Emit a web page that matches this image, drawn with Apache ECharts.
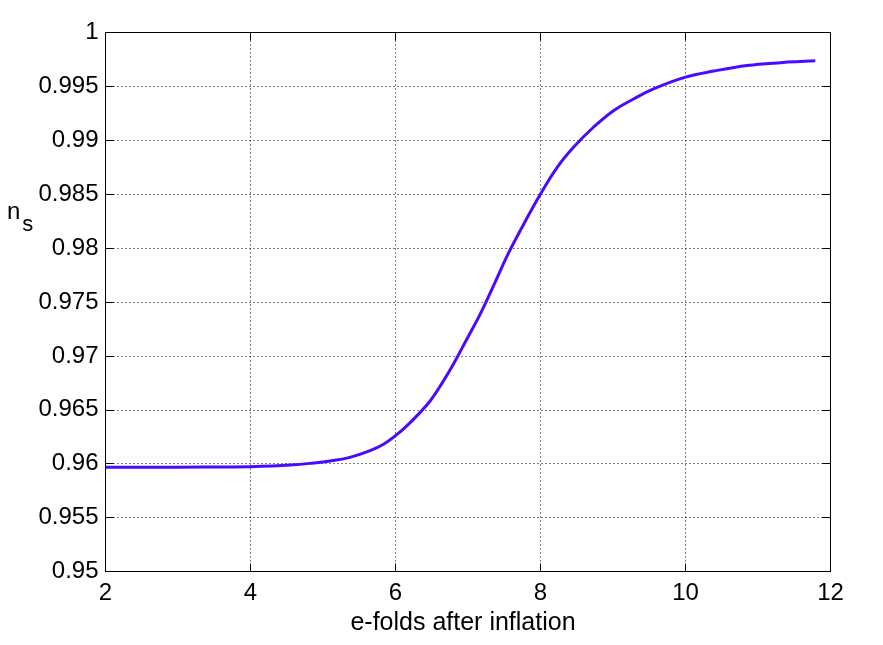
<!DOCTYPE html>
<html>
<head>
<meta charset="utf-8">
<script src="https://cdn.jsdelivr.net/npm/echarts@6/dist/echarts.min.js"></script>
<style>
html,body{margin:0;padding:0;background:#fff;}
#chart{width:883px;height:645px;}
</style>
</head>
<body>
<div id="chart"></div>
<script>
var efolds = [2, 3, 3.7, 4.0, 4.3, 4.55, 4.82, 5.10, 5.37, 5.65, 5.84, 6.0, 6.16, 6.34, 6.48, 6.64, 6.8, 6.985, 7.17, 7.375, 7.56, 7.77, 8.0, 8.23, 8.455, 8.73, 9.007, 9.283, 9.559, 10.0, 10.39, 10.85, 11.31, 11.79];
var ns = [0.95968, 0.95968, 0.9597, 0.95972, 0.95978, 0.95987, 0.96003, 0.96025, 0.96059, 0.96121, 0.96183, 0.9626, 0.96353, 0.96476, 0.96584, 0.96745, 0.96925, 0.97157, 0.9739, 0.97685, 0.97955, 0.98224, 0.98502, 0.98749, 0.98935, 0.99121, 0.99275, 0.99383, 0.99477, 0.99586, 0.99642, 0.99694, 0.9972, 0.99737];
var xTicks = [2, 4, 6, 8, 10, 12];
var yTicks = [0.95, 0.955, 0.96, 0.965, 0.97, 0.975, 0.98, 0.985, 0.99, 0.995, 1];
var xLabel = 'e-folds after inflation';

var FONT = 'Liberation Sans, Arial, Helvetica, sans-serif';
var chart = echarts.init(document.getElementById('chart'), null, {renderer: 'canvas'});
var points = efolds.map(function (x, i) { return [x, ns[i]]; });

var gridLine = {show: true, lineStyle: {color: '#000', width: 1, type: [1, 3]}};
var option = {
  backgroundColor: '#fff',
  animation: false,
  grid: {left: 105.5, right: 52.5, top: 32.5, bottom: 73.5, containLabel: false},
  xAxis: [{
    type: 'value', min: xTicks[0], max: xTicks[xTicks.length - 1], interval: 2,
    position: 'bottom',
    name: xLabel, nameLocation: 'middle', nameGap: 30,
    nameTextStyle: {color: '#000', fontSize: 25, fontFamily: FONT, padding: [0, 10, 0, 0]},
    axisLine: {show: true, onZero: false, lineStyle: {color: '#000', width: 1}},
    axisTick: {show: true, inside: true, length: 8, lineStyle: {color: '#000'}},
    axisLabel: {color: '#000', fontSize: 24, fontFamily: FONT, margin: 10},
    splitLine: gridLine
  }, {
    type: 'value', min: xTicks[0], max: xTicks[xTicks.length - 1], interval: 2,
    position: 'top',
    axisLine: {show: true, onZero: false, lineStyle: {color: '#000', width: 1}},
    axisTick: {show: true, inside: true, length: 8, lineStyle: {color: '#000'}},
    axisLabel: {show: false},
    splitLine: {show: false}
  }],
  yAxis: [{
    type: 'value', min: yTicks[0], max: yTicks[yTicks.length - 1], interval: 0.005,
    position: 'left',
    axisLine: {show: true, onZero: false, lineStyle: {color: '#000', width: 1}},
    axisTick: {show: true, inside: true, length: 8, lineStyle: {color: '#000'}},
    axisLabel: {color: '#000', fontSize: 24, fontFamily: FONT, margin: 7,
      formatter: function (v) { return String(+v.toFixed(3)); }},
    splitLine: gridLine
  }, {
    type: 'value', min: yTicks[0], max: yTicks[yTicks.length - 1], interval: 0.005,
    position: 'right',
    axisLine: {show: true, onZero: false, lineStyle: {color: '#000', width: 1}},
    axisTick: {show: true, inside: true, length: 8, lineStyle: {color: '#000'}},
    axisLabel: {show: false},
    splitLine: {show: false}
  }],
  graphic: [{
    type: 'text', left: 7, top: 200,
    style: {
      text: '{n|n}{s|s}',
      rich: {
        n: {fontSize: 24, fontFamily: FONT, fill: '#000', verticalAlign: 'top'},
        s: {fontSize: 22, fontFamily: FONT, fill: '#000', padding: [14, 0, 0, 2]}
      }
    }
  }],
  series: [{
    type: 'line', data: points, showSymbol: false, smooth: 0.4,
    lineStyle: {color: '#4a0aff', width: 3}, clip: true
  }]
};
chart.setOption(option);
</script>
</body>
</html>
